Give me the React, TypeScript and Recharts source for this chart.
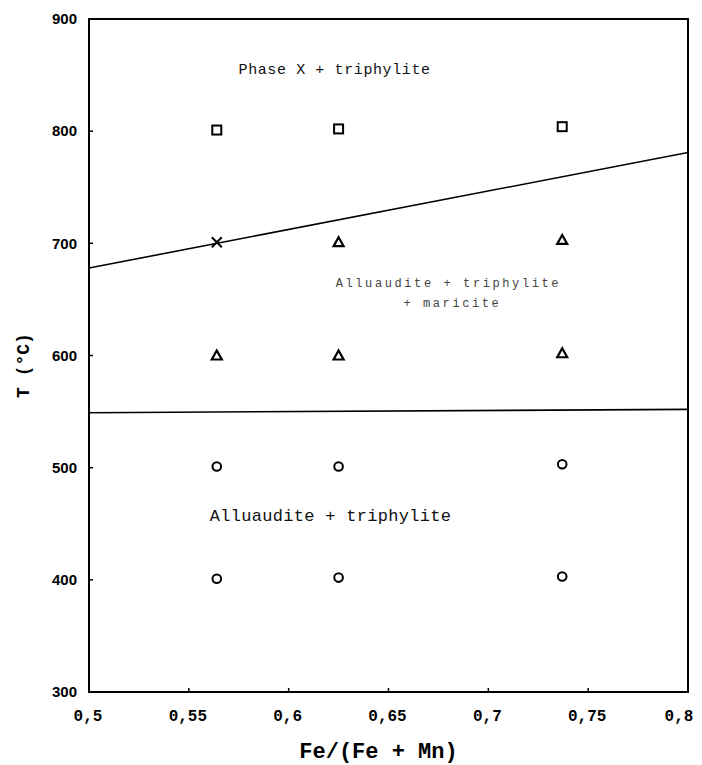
import React from 'react'
import {
  ComposedChart,
  Line,
  Scatter,
  XAxis,
  YAxis,
  ReferenceArea,
  ReferenceDot,
} from 'recharts'

// axis ticks
const xTicks = [0.5, 0.55, 0.6, 0.65, 0.7, 0.75, 0.8]
const yTicks = [300, 400, 500, 600, 700, 800, 900]

// experimental points, Fe/(Fe+Mn) vs T (°C)
const squarePoints = [
  { x: 0.564, t: 801 },
  { x: 0.625, t: 802 },
  { x: 0.737, t: 804 },
]
const crossPoints = [{ x: 0.564, t: 701 }]
const trianglePoints = [
  { x: 0.625, t: 701 },
  { x: 0.737, t: 703 },
  { x: 0.564, t: 600 },
  { x: 0.625, t: 600 },
  { x: 0.737, t: 602 },
]
const circlePoints = [
  { x: 0.564, t: 501 },
  { x: 0.625, t: 501 },
  { x: 0.737, t: 503 },
  { x: 0.564, t: 401 },
  { x: 0.625, t: 402 },
  { x: 0.737, t: 403 },
]

// phase boundaries
const upperBoundary = [
  { x: 0.5, t: 678 },
  { x: 0.8, t: 781 },
]
const lowerBoundary = [
  { x: 0.5, t: 549 },
  { x: 0.8, t: 552 },
]

// field labels
const fieldLabels = [
  { x: 0.623, t: 856, text: 'Phase X + triphylite', size: 15, spacing: 0.6, color: '#111' },
  { x: 0.68, t: 665, text: 'Alluaudite + triphylite', size: 12, spacing: 2.6, color: '#444' },
  { x: 0.682, t: 647, text: '+ maricite', size: 12, spacing: 2.6, color: '#444' },
  { x: 0.621, t: 458, text: 'Alluaudite + triphylite', size: 17, spacing: 0.3, color: '#111' },
]

const mono = '"Liberation Mono", "DejaVu Sans Mono", monospace'

const SquareMark = (p: any) => (
  <rect x={p.cx - 4.5} y={p.cy - 4.5} width={9} height={9} fill="none" stroke="#000" strokeWidth={2} />
)
const TriangleMark = (p: any) => (
  <polygon
    points={`${p.cx},${p.cy - 5} ${p.cx + 5},${p.cy + 4} ${p.cx - 5},${p.cy + 4}`}
    fill="none"
    stroke="#000"
    strokeWidth={2.2}
    strokeLinejoin="miter"
  />
)
const CircleMark = (p: any) => (
  <circle cx={p.cx} cy={p.cy} r={4.3} fill="none" stroke="#000" strokeWidth={2} />
)
const CrossMark = (p: any) => (
  <path
    d={`M${p.cx - 5},${p.cy - 5}L${p.cx + 5},${p.cy + 5}M${p.cx - 5},${p.cy + 5}L${p.cx + 5},${p.cy - 5}`}
    stroke="#000"
    strokeWidth={2}
  />
)

// x tick: last label sits a bit left of its tick, as in the scan
const XTick = (p: any) => {
  const last = p.index === xTicks.length - 1
  return (
    <text
      x={p.x + (last ? -9 : -1)}
      y={p.y}
      dy="0.71em"
      textAnchor="middle"
      fill="#000"
      fontFamily={mono}
      fontWeight="bold"
      fontSize={16}
    >
      {String(p.payload.value).replace('.', ',')}
    </text>
  )
}

export default function App() {
  return (
    <div style={{ width: 694, height: 757, background: '#fff' }}>
      <ComposedChart
        width={694}
        height={757}
        margin={{ top: 11, right: 14, left: 0, bottom: 0 }}
      >
        <XAxis
          type="number"
          dataKey="x"
          domain={[0.5, 0.8]}
          ticks={xTicks}
          allowDataOverflow
          height={73}
          stroke="#000"
          axisLine={{ stroke: '#000', strokeWidth: 2 }}
          tickLine={{ stroke: '#000', strokeWidth: 1.5 }}
          tickSize={-4}
          tickMargin={22}
          tick={XTick}
          label={{
            value: 'Fe/(Fe + Mn)',
            position: 'insideBottom',
            offset: 7,
            dx: -10,
            fill: '#000',
            fontFamily: mono,
            fontWeight: 'bold',
            fontSize: 22,
          }}
        />
        <YAxis
          type="number"
          dataKey="t"
          domain={[300, 900]}
          ticks={yTicks}
          allowDataOverflow
          width={81}
          axisLine={{ stroke: '#000', strokeWidth: 2 }}
          tickLine={{ stroke: '#000', strokeWidth: 1.5 }}
          tickSize={-4}
          tickMargin={16}
          tick={{ fill: '#000', fontFamily: '"Liberation Sans", Arial, sans-serif', fontWeight: 'bold', fontSize: 15 }}
          label={{
            value: 'T (°C)',
            angle: -90,
            position: 'center',
            dx: -26,
            dy: 10,
            fill: '#000',
            fontFamily: mono,
            fontWeight: 'bold',
            fontSize: 18,
          }}
        />
        <ReferenceArea x1={0.5} x2={0.8} y1={300} y2={900} fill="none" stroke="#000" strokeWidth={2} />
        <Line
          data={upperBoundary}
          dataKey="t"
          stroke="#000"
          strokeWidth={1.6}
          dot={false}
          activeDot={false}
          isAnimationActive={false}
        />
        <Line
          data={lowerBoundary}
          dataKey="t"
          stroke="#000"
          strokeWidth={1.6}
          dot={false}
          activeDot={false}
          isAnimationActive={false}
        />
        <Scatter data={squarePoints} dataKey="t" shape={SquareMark} isAnimationActive={false} />
        <Scatter data={crossPoints} dataKey="t" shape={CrossMark} isAnimationActive={false} />
        <Scatter data={trianglePoints} dataKey="t" shape={TriangleMark} isAnimationActive={false} />
        <Scatter data={circlePoints} dataKey="t" shape={CircleMark} isAnimationActive={false} />
        {fieldLabels.map((f, i) => (
          <ReferenceDot
            key={i}
            x={f.x}
            y={f.t}
            r={0}
            fill="none"
            stroke="none"
            label={{
              value: f.text,
              position: 'center',
              fill: f.color,
              fontFamily: mono,
              fontSize: f.size,
              letterSpacing: f.spacing,
            }}
          />
        ))}
      </ComposedChart>
    </div>
  )
}
